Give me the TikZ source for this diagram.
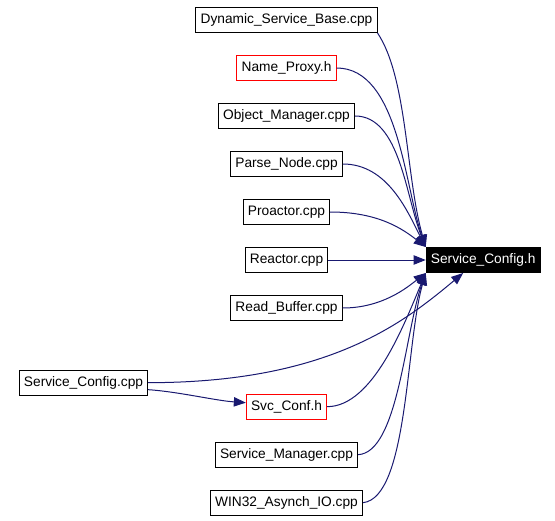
\documentclass[tikz,border=0pt]{standalone}
\usepackage{fontspec}
\setmainfont{Liberation Sans}
\usetikzlibrary{positioning, arrows.meta}
\definecolor{edgeblue}{HTML}{191970}

\begin{document}
\begin{tikzpicture}
    [
        x=0.75pt, y=-0.75pt, node distance=36pt and 147.5pt, on grid,
        file_node/.style={rectangle, draw=black, line width=0.75pt, fill=white, inner xsep=3.5pt, inner ysep=0pt, minimum height=18.75pt, font=\fontsize{10.3}{12}\selectfont},
        red_node/.style={file_node, draw=red},
        main_node/.style={file_node, fill=black, text=white},
        dep_edge/.style={-{Triangle[length=9pt, width=7pt]}, line width=0.75pt, color=edgeblue},
    ]
        \useasboundingbox (0,0) rectangle (555,520) ;
        \node[file_node] (dsb) at (286.5,20) {Dynamic\_Service\_Base.cpp} ;
        \node[red_node] (nproxy) [below = of dsb] {Name\_Proxy.h} ;
        \node[file_node] (objmgr) [below = of nproxy] {Object\_Manager.cpp} ;
        \node[file_node] (pnode) [below = of objmgr] {Parse\_Node.cpp} ;
        \node[file_node] (proactor) [below = of pnode] {Proactor.cpp} ;
        \node[file_node] (reactor) [below = of proactor] {Reactor.cpp} ;
        \node[file_node] (rbuf) [below = of reactor] {Read\_Buffer.cpp} ;
        \node[red_node] (svcconf) [below = 74pt of rbuf] {Svc\_Conf.h} ;
        \node[file_node] (svcmgr) [below = of svcconf] {Service\_Manager.cpp} ;
        \node[file_node] (asynch) [below = of svcmgr] {WIN32\_Asynch\_IO.cpp} ;
        \node[file_node] (cfgcpp) [above left = 18pt and 152.25pt of svcconf] {Service\_Config.cpp} ;
        \node[main_node] (cfgh) [right = of reactor] {Service\_Config.h} ;
        \draw[dep_edge] (dsb.south east) .. controls +(30,45) and +(-20,-70) .. (cfgh.north west) ;
        \draw[dep_edge] (nproxy.east) .. controls +(62,0) and +(-21,-60) .. (cfgh.north west) ;
        \draw[dep_edge] (objmgr.east) .. controls +(45,0) and +(-20,-50) .. (cfgh.north west) ;
        \draw[dep_edge] (pnode.east) .. controls +(45,0) and +(-18,-35) .. (cfgh.north west) ;
        \draw[dep_edge] (proactor.east) .. controls +(48,0) and +(-23,-18) .. (cfgh.north west) ;
        \draw[dep_edge] (reactor) -- (cfgh) ;
        \draw[dep_edge] (rbuf.east) .. controls +(40,0) and +(-18,14) .. (cfgh.south west) ;
        \draw[dep_edge] (svcconf.east) .. controls +(46,0) and +(-21,50) .. (cfgh.south west) ;
        \draw[dep_edge] (svcmgr.east) .. controls +(40,-2) and +(-21,60) .. (cfgh.south west) ;
        \draw[dep_edge] (asynch.east) .. controls +(45,-5) and +(-20,70) .. (cfgh.south west) ;
        \draw[dep_edge] (cfgcpp.east) .. controls +(180,0) and +(-60,50) .. ([xshift=-15pt]cfgh.south) ;
        \draw[dep_edge] ([yshift=-5.25pt]cfgcpp.east) .. controls +(30,2) and +(-30,-2) .. ([yshift=3pt]svcconf.west) ;
\end{tikzpicture}
\end{document}
